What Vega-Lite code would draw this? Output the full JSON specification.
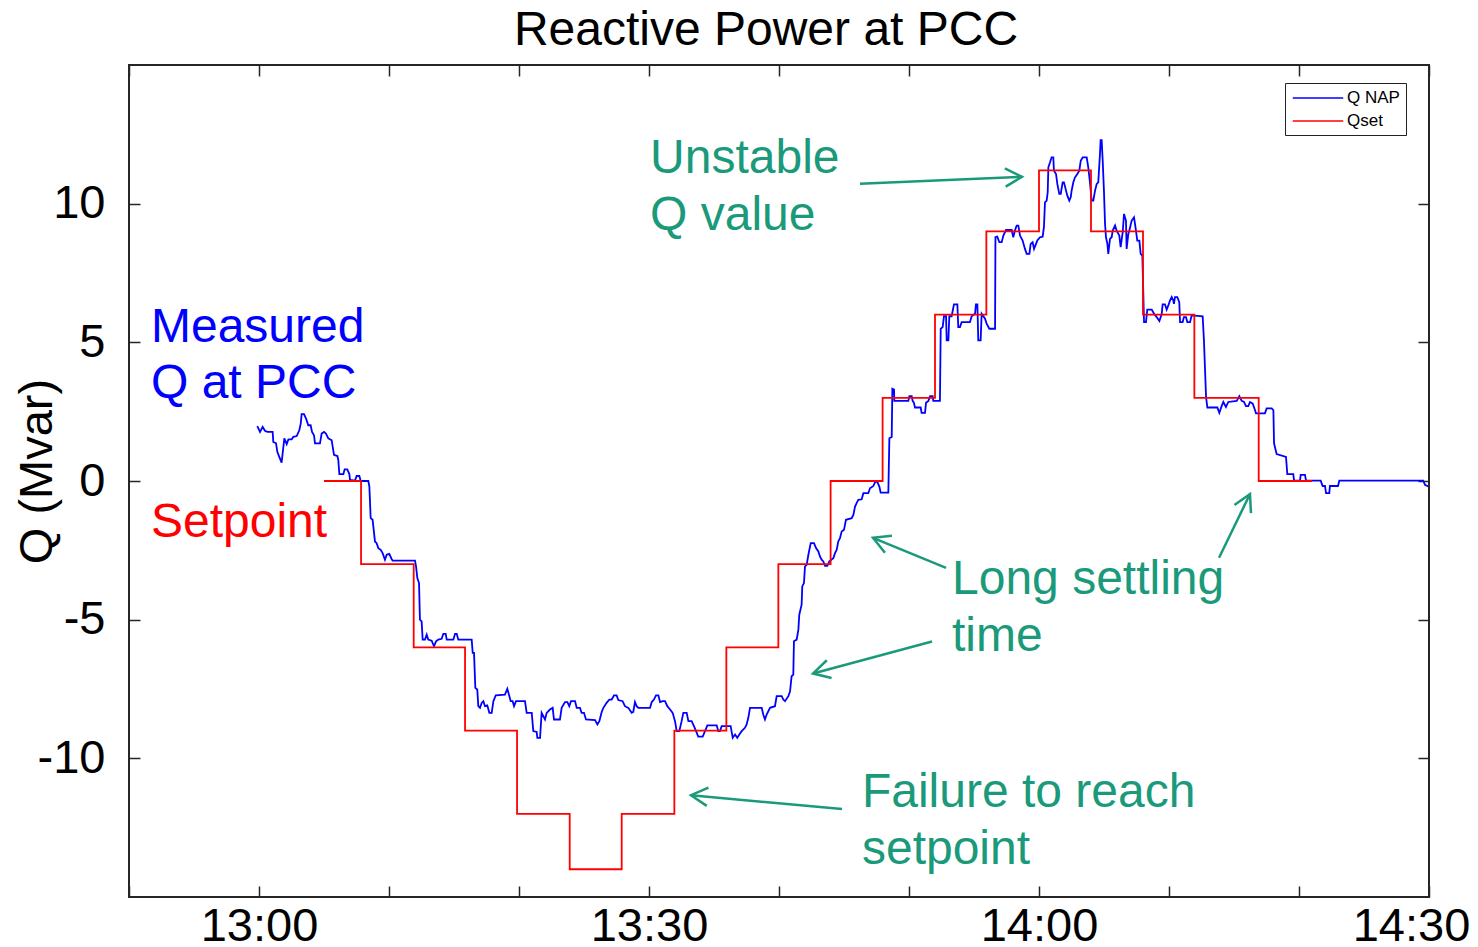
{
  "$schema": "https://vega.github.io/schema/vega-lite/v6.json",
  "width": 1300,
  "height": 832,
  "autosize": {"type": "none"},
  "padding": {"left": 129, "top": 65, "right": 49, "bottom": 50},
  "background": "white",
  "config": {
    "font": "Liberation Sans",
    "view": {"stroke": "#262626", "strokeWidth": 2},
    "axis": {"grid": false, "domain": false, "tickColor": "#262626", "tickWidth": 1.5, "labelColor": "black", "titleColor": "black", "labelFont": "Liberation Sans", "titleFont": "Liberation Sans"}
  },
  "title": {"text": "Reactive Power at PCC", "fontSize": 48, "fontWeight": "normal", "color": "black", "font": "Liberation Sans", "anchor": "middle", "dx": -13, "offset": -39, "baseline": "bottom"},
  "datasets": {
    "qnap": [
      {"t":-0.13,"q":1.98},{"t":0.08,"q":1.77},{"t":0.28,"q":1.95},{"t":0.46,"q":1.81},{"t":0.64,"q":1.77},{"t":1.05,"q":1.77},{"t":1.1,"q":1.41},{"t":1.31,"q":1.36},{"t":1.41,"q":1.05},{"t":1.56,"q":0.87},{"t":1.74,"q":0.66},{"t":1.82,"q":1.0},{"t":1.95,"q":1.54},{"t":2.13,"q":1.33},{"t":2.26,"q":1.5},{"t":2.51,"q":1.5},{"t":2.64,"q":1.59},{"t":2.9,"q":1.62},{"t":3.1,"q":1.83},{"t":3.21,"q":2.07},{"t":3.28,"q":2.41},{"t":3.46,"q":2.41},{"t":3.62,"q":2.25},{"t":3.79,"q":2.01},{"t":3.97,"q":2.01},{"t":4.08,"q":1.77},{"t":4.23,"q":1.65},{"t":4.31,"q":1.36},{"t":4.69,"q":1.36},{"t":4.82,"q":1.71},{"t":5.0,"q":1.77},{"t":5.15,"q":1.71},{"t":5.33,"q":1.54},{"t":5.59,"q":1.47},{"t":5.67,"q":1.23},{"t":5.77,"q":0.94},{"t":6.03,"q":0.9},{"t":6.1,"q":0.76},{"t":6.18,"q":0.25},{"t":6.49,"q":0.25},{"t":6.59,"q":0.42},{"t":6.79,"q":0.42},{"t":6.95,"q":0.25},{"t":7.0,"q":0.04},{"t":7.38,"q":0.01},{"t":7.51,"q":0.18},{"t":7.72,"q":0.18},{"t":7.82,"q":0},{"t":8.41,"q":0},{"t":8.49,"q":-0.2},{"t":8.59,"q":-1.34},{"t":8.74,"q":-1.4},{"t":8.92,"q":-2.18},{"t":9.05,"q":-2.24},{"t":9.18,"q":-2.42},{"t":9.36,"q":-2.48},{"t":9.51,"q":-2.6},{"t":9.69,"q":-2.84},{"t":9.82,"q":-2.66},{"t":10.02,"q":-2.63},{"t":10.21,"q":-2.82},{"t":10.28,"q":-2.87},{"t":12.0,"q":-2.87},
      {"t":12.08,"q":-3.08},{"t":12.18,"q":-3.5},{"t":12.31,"q":-3.68},{"t":12.38,"q":-5.0},{"t":12.51,"q":-5.06},{"t":12.59,"q":-5.72},{"t":12.77,"q":-5.72},{"t":12.9,"q":-5.54},{"t":13.02,"q":-5.72},{"t":13.28,"q":-5.76},{"t":13.46,"q":-5.96},{"t":13.62,"q":-5.78},{"t":13.79,"q":-5.72},{"t":14.05,"q":-5.69},{"t":14.18,"q":-5.51},{"t":14.36,"q":-5.51},{"t":14.44,"q":-5.72},{"t":14.95,"q":-5.72},{"t":15.08,"q":-5.51},{"t":15.21,"q":-5.51},{"t":15.33,"q":-5.72},{"t":16.36,"q":-5.72},{"t":16.44,"q":-6.2},{"t":16.54,"q":-6.2},{"t":16.64,"q":-7.46},{"t":16.79,"q":-7.52},{"t":16.87,"q":-8.12},{"t":17.0,"q":-8.18},{"t":17.13,"q":-8.0},{"t":17.26,"q":-7.94},{"t":17.38,"q":-8.12},{"t":17.56,"q":-8.09},{"t":17.72,"q":-8.36},{"t":17.9,"q":-8.36},{"t":18.03,"q":-7.94},{"t":18.21,"q":-7.73},{"t":18.92,"q":-7.7},{"t":19.1,"q":-7.49},{"t":19.26,"q":-7.76},{"t":19.36,"q":-7.94},{"t":19.51,"q":-7.94},{"t":19.62,"q":-8.12},{"t":19.77,"q":-7.94},{"t":20.46,"q":-7.94},{"t":20.59,"q":-8.36},{"t":20.98,"q":-8.36},{"t":21.1,"q":-9.02},{"t":21.36,"q":-9.05},{"t":21.41,"q":-9.26},{"t":21.62,"q":-9.26},
      {"t":21.74,"q":-8.36},{"t":22.0,"q":-8.6},{"t":22.13,"q":-8.36},{"t":22.38,"q":-8.24},{"t":22.59,"q":-8.18},{"t":22.69,"q":-8.6},{"t":23.15,"q":-8.6},{"t":23.28,"q":-8.18},{"t":23.54,"q":-7.97},{"t":23.72,"q":-7.97},{"t":23.87,"q":-8.12},{"t":24.0,"q":-7.94},{"t":24.31,"q":-7.94},{"t":24.44,"q":-8.18},{"t":24.69,"q":-8.18},{"t":24.82,"q":-8.36},{"t":25.0,"q":-8.36},{"t":25.15,"q":-8.6},{"t":25.85,"q":-8.62},{"t":26.03,"q":-8.78},{"t":26.18,"q":-8.66},{"t":26.36,"q":-8.33},{"t":26.49,"q":-8.18},{"t":26.74,"q":-8.0},{"t":26.95,"q":-7.88},{"t":27.13,"q":-7.88},{"t":27.31,"q":-7.73},{"t":27.51,"q":-7.73},{"t":27.64,"q":-7.9},{"t":27.97,"q":-7.94},{"t":28.15,"q":-8.12},{"t":28.41,"q":-8.18},{"t":28.67,"q":-8.36},{"t":28.79,"q":-8.33},{"t":28.92,"q":-7.97},{"t":29.05,"q":-8.12},{"t":29.18,"q":-8.18},{"t":30.08,"q":-8.18},{"t":30.21,"q":-7.97},{"t":30.38,"q":-7.88},{"t":30.54,"q":-7.73},{"t":30.72,"q":-7.73},{"t":30.85,"q":-7.97},{"t":31.05,"q":-7.94},{"t":31.23,"q":-7.94},{"t":31.41,"q":-8.12},{"t":31.62,"q":-8.24},{"t":31.82,"q":-8.36},{"t":32.0,"q":-8.66},{"t":32.13,"q":-9.02},{"t":32.33,"q":-9.02},{"t":32.51,"q":-8.66},{"t":32.64,"q":-8.36},{"t":32.9,"q":-8.36},{"t":33.03,"q":-8.66},{"t":33.28,"q":-8.66},{"t":33.46,"q":-8.84},{"t":33.62,"q":-9.02},{"t":33.79,"q":-9.22},{"t":34.13,"q":-9.22},{"t":34.31,"q":-9.02},{"t":34.49,"q":-8.81},{"t":35.21,"q":-8.81},{"t":35.33,"q":-9.02},{"t":35.46,"q":-9.02},{"t":35.59,"q":-8.84},{"t":36.28,"q":-8.84},{"t":36.44,"q":-9.26},{"t":36.62,"q":-9.14},{"t":36.79,"q":-9.26},{"t":36.95,"q":-9.14},{"t":37.13,"q":-9.02},{"t":37.38,"q":-8.9},{"t":37.51,"q":-8.78},{"t":37.64,"q":-8.54},{"t":37.77,"q":-8.18},
      {"t":38.67,"q":-8.18},{"t":38.79,"q":-8.42},{"t":38.92,"q":-8.6},{"t":39.05,"q":-8.42},{"t":39.31,"q":-8.18},{"t":39.69,"q":-8.12},{"t":39.82,"q":-7.76},{"t":40.21,"q":-7.76},{"t":40.33,"q":-7.88},{"t":40.46,"q":-7.94},{"t":40.72,"q":-7.76},{"t":40.85,"q":-7.58},{"t":40.97,"q":-7.04},{"t":41.1,"q":-6.98},{"t":41.15,"q":-5.78},{"t":41.36,"q":-5.72},{"t":41.49,"q":-5.36},{"t":41.56,"q":-4.82},{"t":41.74,"q":-4.46},{"t":41.79,"q":-3.8},{"t":41.92,"q":-3.68},{"t":42.0,"q":-3.08},{"t":42.13,"q":-3.02},{"t":42.26,"q":-2.66},{"t":42.44,"q":-2.24},{"t":42.69,"q":-2.24},{"t":42.85,"q":-2.42},{"t":43.03,"q":-2.54},{"t":43.15,"q":-2.72},{"t":43.28,"q":-2.84},{"t":43.41,"q":-2.9},{"t":43.54,"q":-3.06},{"t":43.72,"q":-3.06},{"t":43.87,"q":-2.9},{"t":44.18,"q":-2.78},{"t":44.31,"q":-2.6},{"t":44.44,"q":-2.48},{"t":44.56,"q":-2.18},{"t":44.69,"q":-2.06},{"t":44.82,"q":-1.82},{"t":45.0,"q":-1.76},{"t":45.15,"q":-1.4},{"t":45.59,"q":-1.34},{"t":45.72,"q":-1.22},{"t":45.85,"q":-0.92},{"t":45.97,"q":-0.8},{"t":46.1,"q":-0.68},{"t":46.36,"q":-0.66},{"t":46.49,"q":-0.44},{"t":46.87,"q":-0.44},{"t":47.0,"q":-0.26},{"t":47.26,"q":-0.18},{"t":47.4,"q":-0.03},{"t":47.56,"q":-0.03},{"t":47.72,"q":-0.2},{"t":47.82,"q":-0.42},{"t":48.41,"q":-0.42},
      {"t":48.49,"q":1.54},{"t":48.67,"q":1.59},{"t":48.72,"q":3.33},{"t":48.85,"q":3.3},{"t":48.87,"q":2.89},{"t":49.95,"q":2.89},{"t":50.03,"q":3.06},{"t":50.21,"q":3.06},{"t":50.28,"q":2.89},{"t":50.38,"q":2.82},{"t":50.46,"q":2.65},{"t":50.9,"q":2.65},{"t":50.97,"q":2.46},{"t":51.23,"q":2.46},{"t":51.31,"q":2.82},{"t":51.49,"q":2.89},{"t":51.62,"q":3.06},{"t":51.82,"q":3.06},{"t":51.87,"q":2.89},{"t":52.38,"q":2.89},{"t":52.44,"q":5.49},{"t":52.59,"q":5.55},{"t":52.69,"q":5.94},{"t":52.85,"q":5.94},{"t":52.9,"q":5.07},{"t":53.03,"q":5.07},{"t":53.1,"q":5.94},{"t":53.28,"q":5.94},{"t":53.46,"q":6.37},{"t":53.72,"q":6.37},{"t":53.79,"q":5.55},{"t":53.92,"q":5.55},{"t":54.05,"q":5.73},{"t":54.69,"q":5.73},{"t":54.82,"q":5.94},{"t":55.08,"q":6.03},{"t":55.15,"q":6.37},{"t":55.26,"q":6.37},{"t":55.33,"q":5.07},{"t":55.51,"q":5.07},{"t":55.59,"q":6.03},{"t":55.85,"q":5.85},{"t":55.97,"q":5.67},{"t":56.18,"q":5.49},{"t":56.62,"q":5.49},
      {"t":56.65,"q":8.79},{"t":56.79,"q":8.81},{"t":56.95,"q":8.61},{"t":57.13,"q":8.61},{"t":57.26,"q":8.85},{"t":57.46,"q":9.05},{"t":57.9,"q":9.05},{"t":58.02,"q":8.79},{"t":58.15,"q":9.03},{"t":58.28,"q":9.21},{"t":58.41,"q":9.21},{"t":58.54,"q":8.85},{"t":58.74,"q":8.67},{"t":58.92,"q":8.37},{"t":59.05,"q":8.19},{"t":59.26,"q":8.19},{"t":59.36,"q":8.55},{"t":59.51,"q":8.61},{"t":59.62,"q":8.37},{"t":59.77,"q":8.55},{"t":59.87,"q":8.67},{"t":60.08,"q":8.79},{"t":60.28,"q":8.81},{"t":60.38,"q":9.15},{"t":60.46,"q":10.05},{"t":60.59,"q":10.11},{"t":60.67,"q":10.41},{"t":60.72,"q":11.31},{"t":60.85,"q":11.49},{"t":60.97,"q":11.67},{"t":61.1,"q":11.67},{"t":61.15,"q":11.19},{"t":61.31,"q":11.07},{"t":61.41,"q":10.71},{"t":61.56,"q":10.35},{"t":61.67,"q":10.35},{"t":61.82,"q":10.77},{"t":61.92,"q":10.77},{"t":62.08,"q":10.47},{"t":62.18,"q":10.29},{"t":62.33,"q":10.11},{"t":62.44,"q":10.23},{"t":62.51,"q":10.47},{"t":62.64,"q":10.77},{"t":62.77,"q":10.95},{"t":62.95,"q":11.07},{"t":63.1,"q":11.19},{"t":63.21,"q":11.55},{"t":63.36,"q":11.67},{"t":63.67,"q":11.67},{"t":63.79,"q":11.31},{"t":63.92,"q":10.77},{"t":64.05,"q":10.11},{"t":64.18,"q":10.11},{"t":64.31,"q":10.47},{"t":64.44,"q":10.71},{"t":64.56,"q":10.77},{"t":64.69,"q":11.79},{"t":64.74,"q":12.29},{"t":64.82,"q":12.29},{"t":64.9,"q":11.55},{"t":65.0,"q":10.41},{"t":65.08,"q":9.27},{"t":65.15,"q":8.79},{"t":65.26,"q":8.55},{"t":65.33,"q":8.19},{"t":65.46,"q":8.73},{"t":65.59,"q":8.79},{"t":65.67,"q":9.03},{"t":65.85,"q":9.21},{"t":65.97,"q":9.03},{"t":66.18,"q":8.85},{"t":66.28,"q":8.43},{"t":66.44,"q":8.97},{"t":66.54,"q":9.63},{"t":66.69,"q":9.39},{"t":66.74,"q":8.37},{"t":66.87,"q":8.91},{"t":66.95,"q":9.03},{"t":67.13,"q":9.39},{"t":67.31,"q":9.51},{"t":67.46,"q":9.03},{"t":67.56,"q":8.67},{"t":67.72,"q":8.67},{"t":67.82,"q":8.19},{"t":67.95,"q":8.13},
      {"t":68.08,"q":5.73},{"t":68.23,"q":5.73},{"t":68.33,"q":6.18},{"t":68.67,"q":6.18},{"t":68.85,"q":6.03},{"t":69.05,"q":5.91},{"t":69.26,"q":5.77},{"t":69.36,"q":5.91},{"t":69.44,"q":6.03},{"t":69.51,"q":6.37},{"t":69.69,"q":6.37},{"t":69.82,"q":6.18},{"t":69.95,"q":6.33},{"t":70.08,"q":6.51},{"t":70.21,"q":6.63},{"t":70.33,"q":6.51},{"t":70.38,"q":6.39},{"t":70.46,"q":6.63},{"t":70.64,"q":6.63},{"t":70.79,"q":6.45},{"t":70.85,"q":5.73},{"t":71.05,"q":5.73},{"t":71.15,"q":5.91},{"t":71.31,"q":5.91},{"t":71.41,"q":5.73},{"t":71.62,"q":5.73},{"t":71.74,"q":5.97},{"t":72.59,"q":5.94},{"t":72.69,"q":5.05},{"t":72.85,"q":3.03},{"t":72.95,"q":2.65},{"t":73.72,"q":2.65},{"t":73.87,"q":2.46},{"t":74.05,"q":2.7},{"t":74.18,"q":2.85},{"t":74.38,"q":2.67},{"t":74.56,"q":2.85},{"t":75.21,"q":2.89},{"t":75.41,"q":3.06},{"t":75.59,"q":2.89},{"t":75.77,"q":2.85},{"t":75.92,"q":2.7},{"t":76.1,"q":2.7},{"t":76.23,"q":2.85},{"t":76.44,"q":2.79},{"t":76.62,"q":2.55},{"t":76.69,"q":2.44},{"t":77.38,"q":2.44},{"t":77.51,"q":2.62},{"t":77.9,"q":2.62},{"t":78.03,"q":2.55},{"t":78.08,"q":1.36},{"t":78.28,"q":0.97},{"t":79.0,"q":0.87},{"t":79.1,"q":0.25},{"t":79.56,"q":0.25},{"t":79.62,"q":0.01},{"t":80.08,"q":0.01},{"t":80.13,"q":0.22},{"t":80.46,"q":0.22},{"t":80.54,"q":0.01},{"t":81.67,"q":0.01},{"t":81.82,"q":-0.18},{"t":82.0,"q":-0.18},{"t":82.08,"q":-0.44},{"t":82.33,"q":-0.44},{"t":82.38,"q":-0.18},{"t":83.0,"q":-0.18},{"t":83.1,"q":0.01},{"t":89.56,"q":0.01},{"t":89.69,"q":-0.14},{"t":89.95,"q":-0.2}
    ],
    "qset": [
      {"t":5,"q":0},{"t":7.85,"q":-3},{"t":11.9,"q":-6},{"t":15.85,"q":-9},{"t":19.85,"q":-12},{"t":23.9,"q":-14},{"t":27.9,"q":-12},{"t":31.95,"q":-9},{"t":35.95,"q":-6},{"t":39.95,"q":-3},{"t":43.97,"q":0},{"t":47.97,"q":3},{"t":52,"q":6},{"t":55.95,"q":9},{"t":60,"q":11.2},{"t":64,"q":9},{"t":68,"q":6},{"t":71.95,"q":3},{"t":76.9,"q":0},{"t":81,"q":0}
    ],
    "notes": [
      {"t":-8.31,"q":5.0,"text":"Measured\nQ at PCC","kind":"measured"},
      {"t":-8.31,"q":-2.01,"text":"Setpoint","kind":"setpoint"},
      {"t":30.08,"q":11.1,"text":"Unstable\nQ value","kind":"comment"},
      {"t":53.31,"q":-4.06,"text":"Long settling\ntime","kind":"comment"},
      {"t":46.38,"q":-11.76,"text":"Failure to reach\nsetpoint","kind":"comment"}
    ],
    "arrows": [
      {"id":"unstable","t":46.23,"q":10.72,"t2":58.69,"q2":10.97},
      {"id":"settle_up","t":52.85,"q":-3.13,"t2":47.23,"q2":-2.05},
      {"id":"settle_low","t":51.77,"q":-5.79,"t2":42.62,"q2":-6.94},
      {"id":"settle_right","t":73.85,"q":-2.77,"t2":76.23,"q2":-0.47},
      {"id":"failure","t":44.85,"q":-11.83,"t2":33.23,"q2":-11.33}
    ]
  },
  "resolve": {"axis": {"x": "independent", "y": "independent"}},
  "layer": [
    {
      "data": {"name": "qnap"},
      "mark": {"type": "line", "strokeWidth": 1.8, "interpolate": "linear"},
      "encoding": {
        "x": {"field": "t", "type": "quantitative", "scale": {"domain": [-10, 90], "nice": false, "zero": false},
          "axis": {"orient": "bottom", "values": [-10,0,10,20,30,40,50,60,70,80,90], "title": null, "tickSize": -11, "labelFontSize": 47, "labelPadding": 17, "labelOverlap": false, "labelBound": false, "labelFlush": false,
            "labelExpr": "datum.value % 30 == 0 ? timeFormat(datetime(2000,0,1,13,datum.value),'%H:%M') : ''",
            "labelOffset": {"condition": {"test": "datum.value == 90", "value": -18}, "value": 0}}},
        "y": {"field": "q", "type": "quantitative", "scale": {"domain": [-15, 15], "nice": false, "zero": false},
          "axis": {"orient": "left", "values": [-10,-5,0,5,10], "tickSize": -11, "labelFontSize": 47, "labelPadding": 35, "labelOverlap": false,
            "labelExpr": "datum.value < 0 ? '-' + abs(datum.value) : '' + datum.value",
            "title": "Q (Mvar)", "titleFontSize": 47, "titleFontWeight": "normal", "titleX": -92, "titleY": 406, "titleAngle": 270, "titleAlign": "center", "titleBaseline": "middle"}},
        "color": {"datum": "Q NAP", "type": "nominal", "scale": {"domain": ["Q NAP", "Qset"], "range": ["#0000ff", "#ff0000"]},
          "legend": {"title": null, "orient": "none", "legendX": 1156, "legendY": 18, "strokeColor": "#222222", "fillColor": "white", "padding": 6, "labelFontSize": 17, "labelColor": "black", "labelFont": "Liberation Sans", "symbolType": "M-0.9,0L5.4,0", "symbolSize": 256, "symbolStrokeWidth": 1.5, "rowPadding": 6, "labelOffset": 38}}
      }
    },
    {
      "data": {"name": "qset"},
      "mark": {"type": "line", "strokeWidth": 1.8, "interpolate": "step-after"},
      "encoding": {
        "x": {"field": "t", "type": "quantitative", "axis": {"orient": "top", "values": [-10,0,10,20,30,40,50,60,70,80,90], "labels": false, "title": null, "tickSize": -11}},
        "y": {"field": "q", "type": "quantitative", "axis": {"orient": "right", "values": [-10,-5,0,5,10], "labels": false, "title": null, "tickSize": -11}},
        "color": {"datum": "Qset", "type": "nominal"}
      }
    },
    {
      "data": {"name": "arrows"},
      "mark": {"type": "rule", "color": "#1a9a7a", "strokeWidth": 2.5},
      "encoding": {
        "x": {"field": "t", "type": "quantitative", "axis": null},
        "y": {"field": "q", "type": "quantitative", "axis": null},
        "x2": {"field": "t2"},
        "y2": {"field": "q2"}
      }
    },
    {
      "data": {"name": "arrows"},
      "transform": [{"filter": "datum.id == 'unstable'"}],
      "mark": {"type": "point", "shape": "M-1,-0.55L0,0L-1,0.55", "filled": false, "color": "#1a9a7a", "strokeWidth": 2.5, "size": 1115, "angle": -2.5, "opacity": 1},
      "encoding": {"x": {"field": "t2", "type": "quantitative", "axis": null}, "y": {"field": "q2", "type": "quantitative", "axis": null}}
    },
    {
      "data": {"name": "arrows"},
      "transform": [{"filter": "datum.id == 'settle_up'"}],
      "mark": {"type": "point", "shape": "M-1,-0.55L0,0L-1,0.55", "filled": false, "color": "#1a9a7a", "strokeWidth": 2.5, "size": 1115, "angle": -157.7, "opacity": 1},
      "encoding": {"x": {"field": "t2", "type": "quantitative", "axis": null}, "y": {"field": "q2", "type": "quantitative", "axis": null}}
    },
    {
      "data": {"name": "arrows"},
      "transform": [{"filter": "datum.id == 'settle_low'"}],
      "mark": {"type": "point", "shape": "M-1,-0.55L0,0L-1,0.55", "filled": false, "color": "#1a9a7a", "strokeWidth": 2.5, "size": 1115, "angle": 164.9, "opacity": 1},
      "encoding": {"x": {"field": "t2", "type": "quantitative", "axis": null}, "y": {"field": "q2", "type": "quantitative", "axis": null}}
    },
    {
      "data": {"name": "arrows"},
      "transform": [{"filter": "datum.id == 'settle_right'"}],
      "mark": {"type": "point", "shape": "M-1,-0.55L0,0L-1,0.55", "filled": false, "color": "#1a9a7a", "strokeWidth": 2.5, "size": 1115, "angle": -64.2, "opacity": 1},
      "encoding": {"x": {"field": "t2", "type": "quantitative", "axis": null}, "y": {"field": "q2", "type": "quantitative", "axis": null}}
    },
    {
      "data": {"name": "arrows"},
      "transform": [{"filter": "datum.id == 'failure'"}],
      "mark": {"type": "point", "shape": "M-1,-0.55L0,0L-1,0.55", "filled": false, "color": "#1a9a7a", "strokeWidth": 2.5, "size": 1115, "angle": -174.7, "opacity": 1},
      "encoding": {"x": {"field": "t2", "type": "quantitative", "axis": null}, "y": {"field": "q2", "type": "quantitative", "axis": null}}
    },
    {
      "data": {"name": "notes"},
      "transform": [{"filter": "datum.kind == 'measured'"}],
      "mark": {"type": "text", "align": "left", "baseline": "alphabetic", "fontSize": 48, "lineBreak": "\n", "lineHeight": 56, "color": "#0000ff", "font": "Liberation Sans"},
      "encoding": {"x": {"field": "t", "type": "quantitative", "axis": null}, "y": {"field": "q", "type": "quantitative", "axis": null}, "text": {"field": "text"}}
    },
    {
      "data": {"name": "notes"},
      "transform": [{"filter": "datum.kind == 'setpoint'"}],
      "mark": {"type": "text", "align": "left", "baseline": "alphabetic", "fontSize": 48, "lineBreak": "\n", "lineHeight": 56, "color": "#ff0000", "font": "Liberation Sans"},
      "encoding": {"x": {"field": "t", "type": "quantitative", "axis": null}, "y": {"field": "q", "type": "quantitative", "axis": null}, "text": {"field": "text"}}
    },
    {
      "data": {"name": "notes"},
      "transform": [{"filter": "datum.kind == 'comment'"}],
      "mark": {"type": "text", "align": "left", "baseline": "alphabetic", "fontSize": 48, "lineBreak": "\n", "lineHeight": 57, "color": "#1a9a7a", "font": "Liberation Sans"},
      "encoding": {"x": {"field": "t", "type": "quantitative", "axis": null}, "y": {"field": "q", "type": "quantitative", "axis": null}, "text": {"field": "text"}}
    }
  ]
}
